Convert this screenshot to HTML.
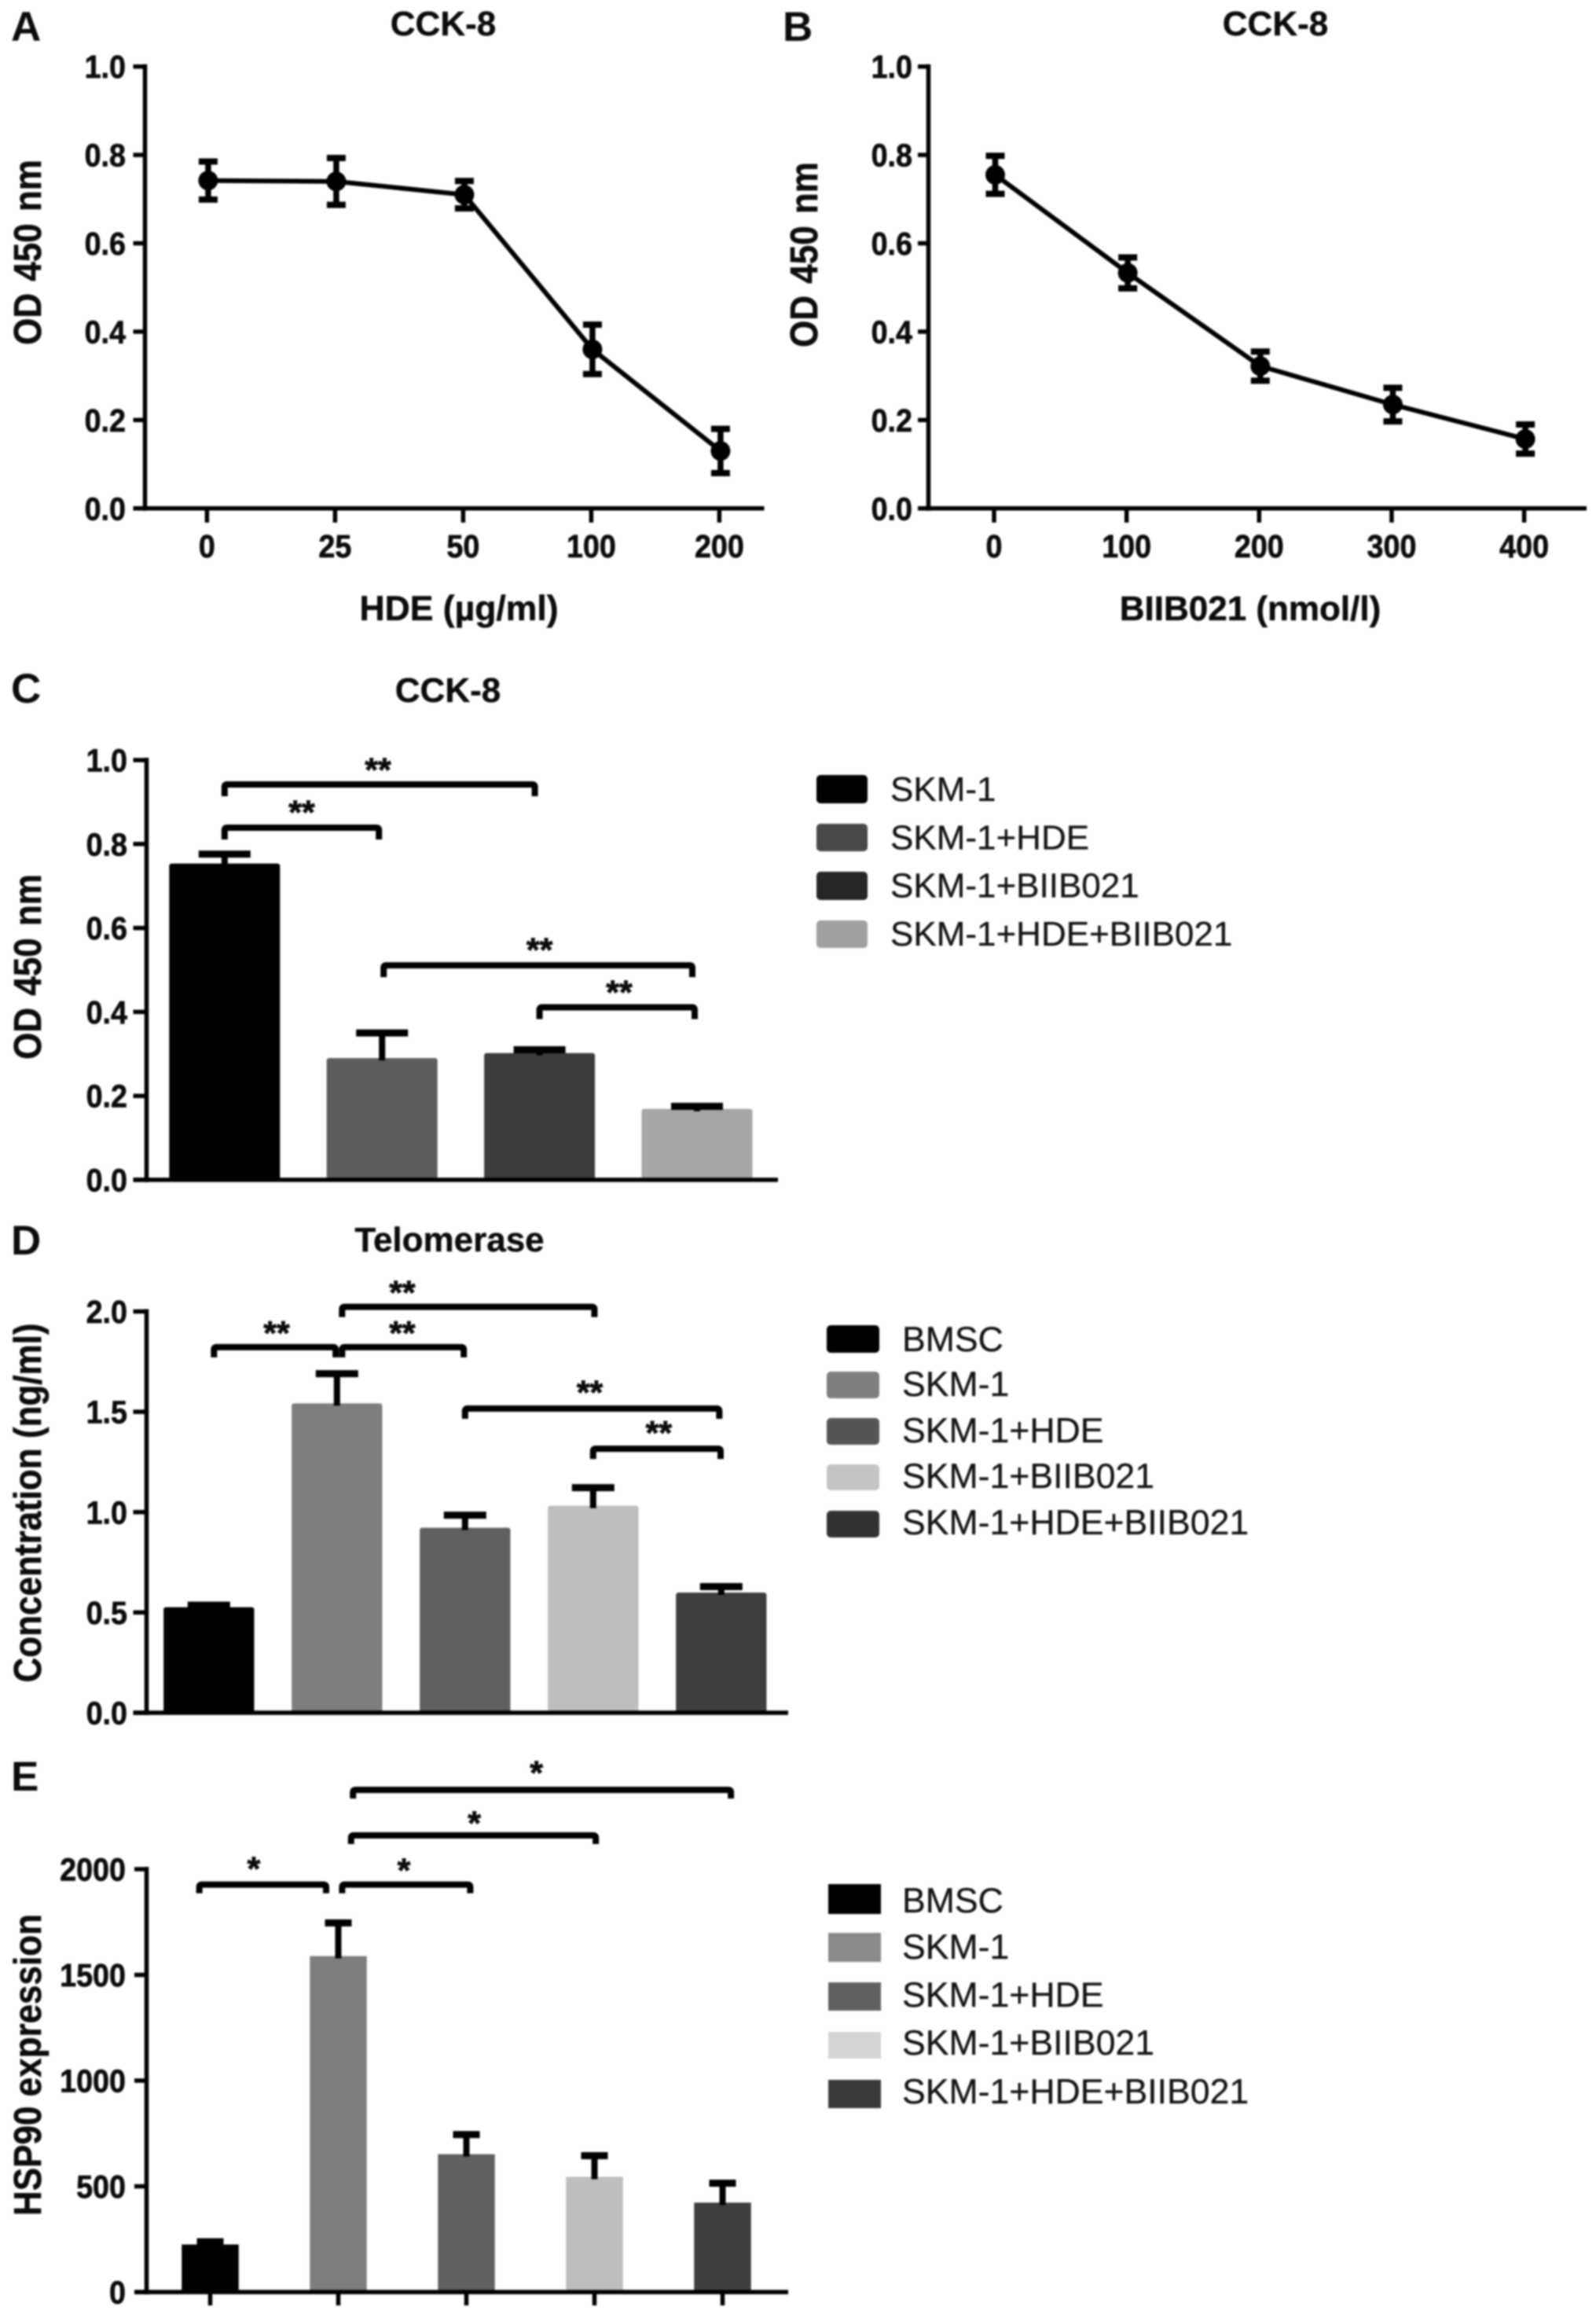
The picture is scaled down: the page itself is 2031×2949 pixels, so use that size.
<!DOCTYPE html>
<html lang="en">
<head>
<meta charset="utf-8">
<title>CCK-8, Telomerase and HSP90 charts</title>
<style>
  html, body { margin: 0; padding: 0; background: #fff; }
  svg { display: block; filter: blur(1px); }
  text { font-family: "Liberation Sans", sans-serif; fill: #0c0c0c; }
  .b { font-weight: bold; }
  .tl { font-size: 41px; font-weight: bold; stroke: #0c0c0c; stroke-width: 0.7px; }
  .ti { font-size: 44px; font-weight: bold; text-anchor: middle; stroke: #0c0c0c; stroke-width: 0.4px; }
  .ax { font-size: 44px; font-weight: bold; text-anchor: middle; stroke: #0c0c0c; stroke-width: 0.5px; }
  .lt { font-size: 44px; fill: #141414; stroke: #141414; stroke-width: 0.3px; }
  .lt2 { font-size: 44.6px; fill: #141414; stroke: #141414; stroke-width: 0.3px; }
  .pl { font-size: 53px; font-weight: bold; }
</style>
</head>
<body>
<svg id="fig" xmlns="http://www.w3.org/2000/svg" width="2031" height="2949" viewBox="0 0 2031 2949">
  <rect x="0" y="0" width="2031" height="2949" fill="#fff"/>

  <g id="panelA">
    <text class="pl" x="14" y="52">A</text>
    <text class="ti" x="564" y="45">CCK-8</text>
    <text class="ax" transform="translate(52,321) rotate(-90) scale(1,1.12)" style="word-spacing:3px">OD 450 nm</text>
    <text class="ax" x="584" y="789" style="font-size:44.5px">HDE (µg/ml)</text>
  </g>

  <g id="panelB">
    <text class="pl" x="996" y="52">B</text>
    <text class="ti" x="1623" y="45">CCK-8</text>
    <text class="ax" transform="translate(1040,324) rotate(-90) scale(1,1.12)" style="word-spacing:3px">OD 450 nm</text>
    <text class="ax" x="1591" y="789">BIIB021 (nmol/l)</text>
  </g>

  <g id="panelC">
    <text class="pl" x="14" y="894">C</text>
    <text class="ti" x="570" y="893">CCK-8</text>
    <text class="ax" transform="translate(52,1230) rotate(-90) scale(1,1.12)" style="word-spacing:3px">OD 450 nm</text>
    <g>
      <rect x="1039" y="986" width="65" height="36" rx="5" fill="#000"/>
      <text class="lt" x="1133" y="1019">SKM-1</text>
      <rect x="1039" y="1048" width="65" height="35" rx="5" fill="#484848"/>
      <text class="lt" x="1133" y="1080.5">SKM-1+HDE</text>
      <rect x="1039" y="1109" width="65" height="36" rx="5" fill="#262626"/>
      <text class="lt" x="1133" y="1141.5">SKM-1+BIIB021</text>
      <rect x="1039" y="1171" width="65" height="35" rx="5" fill="#a0a0a0"/>
      <text class="lt" x="1133" y="1203">SKM-1+HDE+BIIB021</text>
    </g>
  </g>

  <g id="panelD">
    <text class="pl" x="14" y="1596">D</text>
    <text class="ti" x="572" y="1592">Telomerase</text>
    <text class="ax" transform="translate(52,1912) rotate(-90) scale(1,1.12)">Concentration (ng/ml)</text>
    <g>
      <rect x="1052" y="1686" width="67" height="35" rx="5" fill="#000"/>
      <text class="lt2" x="1148" y="1719">BMSC</text>
      <rect x="1052" y="1745" width="67" height="34" rx="5" fill="#7e7e7e"/>
      <text class="lt2" x="1148" y="1776">SKM-1</text>
      <rect x="1052" y="1804" width="67" height="34" rx="5" fill="#555"/>
      <text class="lt2" x="1148" y="1835">SKM-1+HDE</text>
      <rect x="1052" y="1863" width="67" height="33" rx="5" fill="#c4c4c4"/>
      <text class="lt2" x="1148" y="1893">SKM-1+BIIB021</text>
      <rect x="1052" y="1922" width="67" height="34" rx="5" fill="#333"/>
      <text class="lt2" x="1148" y="1952">SKM-1+HDE+BIIB021</text>
    </g>
  </g>

  <g id="panelE">
    <text class="pl" x="14" y="2278">E</text>
    <text class="ax" transform="translate(52,2627) rotate(-90) scale(1,1.12)">HSP90 expression</text>
    <g>
      <rect x="1054" y="2397" width="67" height="38" fill="#000"/>
      <text class="lt2" x="1148" y="2433">BMSC</text>
      <rect x="1054" y="2459" width="67" height="37" fill="#8a8a8a"/>
      <text class="lt2" x="1148" y="2492">SKM-1</text>
      <rect x="1054" y="2522" width="67" height="36" fill="#606060"/>
      <text class="lt2" x="1148" y="2553">SKM-1+HDE</text>
      <rect x="1054" y="2585" width="67" height="34" fill="#d5d5d5"/>
      <text class="lt2" x="1148" y="2614">SKM-1+BIIB021</text>
      <rect x="1054" y="2646" width="67" height="36" fill="#3a3a3a"/>
      <text class="lt2" x="1148" y="2676">SKM-1+HDE+BIIB021</text>
    </g>
  </g>
</svg>

<script>
// Shared tick values and labels
const odTicks = [0, 0.2, 0.4, 0.6, 0.8, 1.0];
const odTickLabels = ['0.0', '0.2', '0.4', '0.6', '0.8', '1.0'];
const concTicks = [0, 0.5, 1.0, 1.5, 2.0];
const concTickLabels = ['0.0', '0.5', '1.0', '1.5', '2.0'];
const hspTicks = [0, 500, 1000, 1500, 2000];
const hspTickLabels = ['0', '500', '1000', '1500', '2000'];

// Panel A
const aCategories = ['0', '25', '50', '100', '200'];
const aMeans = [0.742, 0.74, 0.71, 0.36, 0.13];
const aErrors = [0.043, 0.053, 0.031, 0.056, 0.05];

// Panel B
const bCategories = ['0', '100', '200', '300', '400'];
const bMeans = [0.755, 0.533, 0.322, 0.235, 0.157];
const bErrors = [0.043, 0.035, 0.033, 0.038, 0.033];

// Panel C
const cGroups = ['SKM-1', 'SKM-1+HDE', 'SKM-1+BIIB021', 'SKM-1+HDE+BIIB021'];
const cMeans = [0.7535, 0.29, 0.302, 0.169];
const cUpper = [0.776, 0.35, 0.31, 0.175];
const cColors = ['#000000', '#5c5c5c', '#3c3c3c', '#a6a6a6'];
const cBracketFrom = [0, 0, 1.01, 2];
const cBracketTo = [1.97, 0.98, 2.97, 2.985];
const cBracketLevel = [0.942, 0.839, 0.511, 0.411];
const cStarAt = [0.974, 0.49, 2.0, 2.506];
const cStarLevel = [0.991, 0.8895, 0.562, 0.461];
const cStarText = ['**', '**', '**', '**'];

// Panel D
const dGroups = ['BMSC', 'SKM-1', 'SKM-1+HDE', 'SKM-1+BIIB021', 'SKM-1+HDE+BIIB021'];
const dMeans = [0.526, 1.542, 0.922, 1.032, 0.599];
const dUpper = [0.536, 1.69, 0.985, 1.122, 0.629];
const dColors = ['#000000', '#7e7e7e', '#606060', '#bebebe', '#3e3e3e'];
const dBracketFrom = [0.04, 1.04, 1.04, 2, 3];
const dBracketTo = [0.99, 1.99, 3.01, 3.985, 3.995];
const dBracketLevel = [1.822, 1.822, 2.023, 1.516, 1.316];
const dStarAt = [0.529, 1.51, 1.51, 2.974, 3.513];
const dStarLevel = [1.922, 1.922, 2.123, 1.626, 1.424];
const dStarText = ['**', '**', '**', '**', '**'];

// Panel E
const eGroups = ['BMSC', 'SKM-1', 'SKM-1+HDE', 'SKM-1+BIIB021', 'SKM-1+HDE+BIIB021'];
const eMeans = [225, 1589, 652, 545, 423];
const eUpper = [238, 1746, 745, 645, 515];
const eColors = ['#000000', '#7e7e7e', '#606060', '#bebebe', '#3e3e3e'];
const eBracketFrom = [-0.085, 1.03, 1.1, 1.115];
const eBracketTo = [0.905, 2.03, 3.01, 4.065];
const eBracketLevel = [1927, 1927, 2160, 2375];
const eStarAt = [0.34, 1.512, 2.062, 2.547];
const eStarLevel = [2030, 2022, 2245, 2483];
const eStarText = ['*', '*', '*', '*'];

const NS = 'http://www.w3.org/2000/svg';

function mk(parent, tag, attrs) {
  const el = document.createElementNS(NS, tag);
  for (const k in attrs) { el.setAttribute(k, attrs[k]); }
  parent.appendChild(el);
  return el;
}

function linearScale(d1, r0, r1) {
  return function (v) { return r0 + (r1 - r0) * (v / d1); };
}

function bandScale(first, step) {
  return function (i) { return first + step * i; };
}

function tickTransform(px, py) {
  return 'translate(' + px + ',' + py + ') scale(0.92,1)';
}

function drawYAxis(g, axisX, leftX, rightX, y, tickVals, tickLabels, labelX, topVal) {
  const yLine = mk(g, 'line', { x1: axisX, x2: axisX, y1: y(topVal) - 3, y2: y(0) + 3, stroke: '#000', 'stroke-width': 5.5 });
  
  
  const xLine = mk(g, 'line', { x1: leftX, x2: rightX, y1: y(0), y2: y(0), stroke: '#000', 'stroke-width': 5.5 });
  
  
  tickVals.forEach(function (v, i) {
    const t = mk(g, 'line', { x1: leftX, x2: axisX, y1: y(v), y2: y(v), stroke: '#000', 'stroke-width': 5.5 });
    
    
    const lab = mk(g, 'text', { transform: tickTransform(labelX, y(v) + 14.5), class: 'tl', 'text-anchor': 'end' });
    
    
    lab.textContent = tickLabels[i];
  });
}

function drawXTicks(g, x, count, y0, len) {
  for (let i = 0; i < count; i++) {
    const t = mk(g, 'line', { x1: x(i), x2: x(i), y1: y0, y2: y0 + len, stroke: '#000', 'stroke-width': 5.5 });
    
    
  }
}

function drawLineChart(g, x, y, cats, means, errs) {
  const px = function (i) { return x(i) + 1.5; };
  cats.forEach(function (c, i) {
    const lab = mk(g, 'text', { transform: tickTransform(x(i), 709), class: 'tl', 'text-anchor': 'middle' });
    
    
    lab.textContent = c;
  });
  const pts = means.map(function (m, i) { return px(i) + ',' + y(m); }).join(' ');
  const line = mk(g, 'polyline', { points: pts, fill: 'none', stroke: '#000', 'stroke-width': 6, 'stroke-linejoin': 'round' });
  
  
  means.forEach(function (m, i) {
    const hi = y(m + errs[i]);
    const lo = y(m - errs[i]);
    const stem = mk(g, 'line', { x1: px(i), x2: px(i), y1: hi, y2: lo, stroke: '#000', 'stroke-width': 7.5 });
    
    
    const capTop = mk(g, 'line', { x1: px(i) - 12, x2: px(i) + 12, y1: hi, y2: hi, stroke: '#000', 'stroke-width': 8 });
    
    
    const capBot = mk(g, 'line', { x1: px(i) - 12, x2: px(i) + 12, y1: lo, y2: lo, stroke: '#000', 'stroke-width': 8 });
    
    
    const dot = mk(g, 'circle', { cx: px(i), cy: y(m), r: 12.5, fill: '#000' });
    
    
  });
}

function drawBars(g, x, y, width, capHalf, means, upper, colors, groups, radius) {
  means.forEach(function (m, i) {
    const bar = mk(g, 'rect', { x: x(i) - width / 2, y: y(m), width: width, height: y(0) - y(m), fill: colors[i], rx: radius });
    
    
    const stem = mk(g, 'line', { x1: x(i), x2: x(i), y1: y(upper[i]), y2: y(m) + 3, stroke: '#000', 'stroke-width': 8 });
    
    
    const cap = mk(g, 'line', { x1: x(i) - capHalf, x2: x(i) + capHalf, y1: y(upper[i]), y2: y(upper[i]), stroke: '#000', 'stroke-width': 9 });
    
    
  });
}

function drawBrackets(g, x, y, from, to, level, starAt, starLevel, starText, leg) {
  from.forEach(function (f, i) {
    const x0 = x(f);
    const x1 = x(to[i]);
    const yy = y(level[i]);
    const d = 'M' + x0 + ' ' + (yy + leg) + ' V' + (yy + 3) + ' Q' + x0 + ' ' + yy + ' ' + (x0 + 3) + ' ' + yy +
      ' H' + (x1 - 3) + ' Q' + x1 + ' ' + yy + ' ' + x1 + ' ' + (yy + 3) + ' V' + (yy + leg);
    const path = mk(g, 'path', { d: d, fill: 'none', stroke: '#000', 'stroke-width': 8 });
    
    
    const star = mk(g, 'text', { x: x(starAt[i]), y: y(starLevel[i]) + 22, class: 'b', 'font-size': 43, 'text-anchor': 'middle', stroke: '#0c0c0c', 'stroke-width': 0.8 });
    
    
    star.textContent = starText[i];
  });
}

// Panel A render
(function () {
  const g = document.getElementById('panelA');
  const y = linearScale(1, 646.8, 84.7);
  const x = bandScale(263.4, 163);
  drawYAxis(g, 184.5, 169.5, 972.5, y, odTicks, odTickLabels, 160, 1);
  drawXTicks(g, x, aCategories.length, 646.8, 18);
  drawLineChart(g, x, y, aCategories, aMeans, aErrors);
})();

// Panel B render
(function () {
  const g = document.getElementById('panelB');
  const y = linearScale(1, 646.8, 84.7);
  const x = bandScale(1265, 168.65);
  drawYAxis(g, 1181.5, 1168, 2019, y, odTicks, odTickLabels, 1161, 1);
  drawXTicks(g, x, bCategories.length, 646.8, 18);
  drawLineChart(g, x, y, bCategories, bMeans, bErrors);
})();

// Panel C render
(function () {
  const g = document.getElementById('panelC');
  const y = linearScale(1, 1501, 967);
  const x = bandScale(285.8, 200.4);
  drawBars(g, x, y, 141, 33, cMeans, cUpper, cColors, cGroups, 3);
  drawYAxis(g, 186.5, 169.5, 990, y, odTicks, odTickLabels, 162, 1);
  drawBrackets(g, x, y, cBracketFrom, cBracketTo, cBracketLevel, cStarAt, cStarLevel, cStarText, 15);
})();

// Panel D render
(function () {
  const g = document.getElementById('panelD');
  const y = linearScale(2, 2179, 1668.5);
  const x = bandScale(265.8, 163);
  drawBars(g, x, y, 115.3, 27, dMeans, dUpper, dColors, dGroups, 3);
  drawYAxis(g, 186.5, 169.5, 1003, y, concTicks, concTickLabels, 162, 2);
  drawBrackets(g, x, y, dBracketFrom, dBracketTo, dBracketLevel, dStarAt, dStarLevel, dStarText, 13);
})();

// Panel E render
(function () {
  const g = document.getElementById('panelE');
  const y = linearScale(2000, 2916, 2378);
  const x = bandScale(267.5, 163);
  drawBars(g, x, y, 72.5, 17, eMeans, eUpper, eColors, eGroups, 0);
  drawYAxis(g, 186.5, 171, 1003, y, hspTicks, hspTickLabels, 160, 2000);
  drawXTicks(g, x, eGroups.length, 2916, 17);
  drawBrackets(g, x, y, eBracketFrom, eBracketTo, eBracketLevel, eStarAt, eStarLevel, eStarText, 11);
})();
</script>
</body>
</html>
